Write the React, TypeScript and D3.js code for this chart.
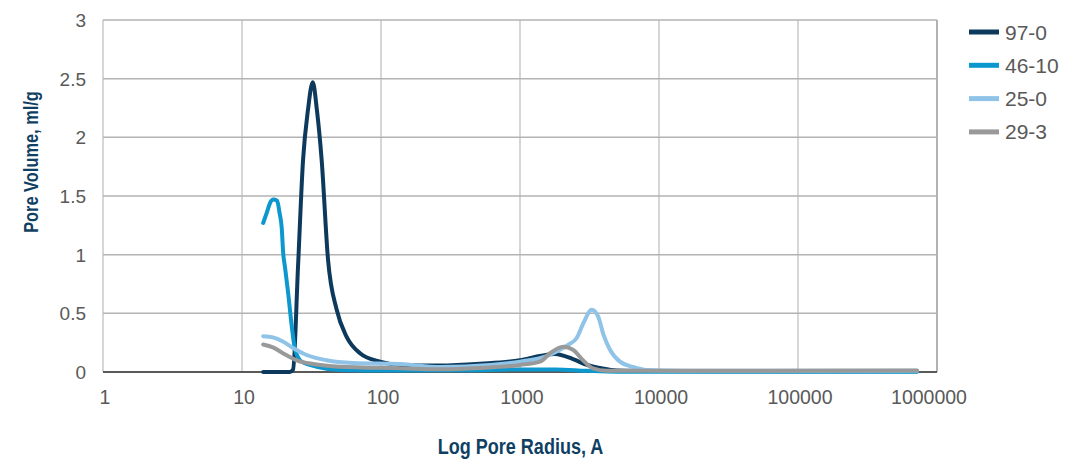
import React, { useEffect, useRef } from 'react'
import * as d3 from 'd3'

// pore radius (A) / pore volume (ml/g)
const radius97 = [14.2, 22.1, 23.3, 25.3, 27.5, 29.8, 32.3, 34.6, 37.4, 41.6, 48, 56.6, 70.6, 98.4, 137, 266, 516, 1000, 1393, 1786, 2406, 3033, 3765, 4985, 10000, 100000, 718000]
const volume97 = [0, 0, 0.02, 0.9, 1.81, 2.23, 2.47, 2.23, 1.81, 0.955, 0.53, 0.3, 0.16, 0.088, 0.06, 0.055, 0.07, 0.1, 0.136, 0.153, 0.11, 0.06, 0.034, 0.012, 0.008, 0.006, 0.006]

const radius46 = [14.2, 15.1, 15.9, 16.8, 17.9, 18.6, 19.3, 19.8, 20.4, 21.5, 22.8, 24.1, 26.9, 34.5, 50.7, 137, 500, 1000, 1800, 3000, 5000, 718000]
const volume46 = [1.27, 1.36, 1.44, 1.47, 1.46, 1.36, 1.23, 1.01, 0.89, 0.67, 0.39, 0.19, 0.088, 0.045, 0.017, 0.012, 0.015, 0.022, 0.022, 0.01, 0.002, 0.002]

const radius25 = [14.2, 16.7, 19.7, 23.3, 29.2, 40.6, 63, 137, 266, 608, 1000, 1556, 1941, 2215, 2557, 2853, 3280, 3659, 3956, 4440, 5240, 6500, 8150, 15000, 100000, 718000]
const volume25 = [0.305, 0.295, 0.26, 0.205, 0.145, 0.1, 0.077, 0.068, 0.043, 0.06, 0.088, 0.136, 0.19, 0.23, 0.29, 0.415, 0.53, 0.47, 0.33, 0.19, 0.088, 0.043, 0.017, 0.01, 0.01, 0.01]

const radius29 = [14.2, 16.7, 19.7, 24.8, 32.4, 50.7, 137, 266, 516, 1000, 1393, 1644, 2050, 2406, 2838, 3350, 4205, 718000]
const volume29 = [0.235, 0.21, 0.16, 0.1, 0.068, 0.045, 0.032, 0.023, 0.034, 0.06, 0.088, 0.16, 0.215, 0.19, 0.1, 0.03, 0.01, 0.012]

const seriesNames = ["97-0", "46-10", "25-0", "29-3"]
const seriesColors = ["#0d3a5c", "#0c98cf", "#8fc3e7", "#999999"]
const yTicks = [0, 0.5, 1, 1.5, 2, 2.5, 3]
const xTicks = [1, 10, 100, 1000, 10000, 100000, 1000000]

const width = 1065, height = 459
const margin = { top: 20, right: 128, bottom: 87, left: 103 }

const App = () => {
    const ref = useRef<SVGSVGElement>(null)

    useEffect(() => {
        document.body.style.margin = "0"
        const svg = d3.select(ref.current)
        svg.selectAll("*").remove()

        const x = d3.scaleLog()
            .domain([1, 1000000])
            .range([margin.left, width - margin.right])

        const y = d3.scaleLinear()
            .domain([0, 3])
            .range([height - margin.bottom, margin.top])

        const series = [
            { name: seriesNames[0], r: radius97, v: volume97 },
            { name: seriesNames[1], r: radius46, v: volume46 },
            { name: seriesNames[2], r: radius25, v: volume25 },
            { name: seriesNames[3], r: radius29, v: volume29 },
        ]

        const color = d3.scaleOrdinal<string>()
            .domain(seriesNames)
            .range(seriesColors)

        // grid
        svg.append("g")
            .selectAll("line")
            .data(xTicks)
            .join("line")
            .attr("x1", d => x(d))
            .attr("x2", d => x(d))
            .attr("y1", y(3))
            .attr("y2", y(0))
            .attr("stroke", (d, i) => i === xTicks.length - 1 ? "#999" : "#c9c9c9")
            .attr("stroke-width", 1.5)

        svg.append("g")
            .selectAll("line")
            .data(yTicks.filter(d => d > 0))
            .join("line")
            .attr("x1", x(1))
            .attr("x2", x(1000000))
            .attr("y1", d => y(d))
            .attr("y2", d => y(d))
            .attr("stroke", "#b3b3b3")
            .attr("stroke-width", 1.5)

        // zero line
        svg.append("line")
            .attr("x1", x(1))
            .attr("x2", x(1000000))
            .attr("y1", y(0))
            .attr("y2", y(0))
            .attr("stroke", "#595959")
            .attr("stroke-width", 2.2)

        // tick labels
        svg.append("g")
            .selectAll("text")
            .data(yTicks)
            .join("text")
            .attr("x", margin.left - 17)
            .attr("y", d => y(d))
            .attr("dy", "0.36em")
            .attr("text-anchor", "end")
            .attr("fill", "#595959")
            .style("font-family", "'Liberation Sans', Arial, sans-serif")
            .style("font-size", "19px")
            .text(d => d)

        svg.append("g")
            .selectAll("text")
            .data(xTicks)
            .join("text")
            .attr("x", d => x(d))
            .attr("dx", (d, i) => i === xTicks.length - 1 ? -8 : 2)
            .attr("y", y(0) + 32)
            .attr("text-anchor", "middle")
            .attr("fill", "#595959")
            .style("font-family", "'Liberation Sans', Arial, sans-serif")
            .style("font-size", "19.5px")
            .text(d => d)

        // series
        const line = d3.line<[number, number]>()
            .x(d => x(d[0]))
            .y(d => y(d[1]))
            .curve(d3.curveMonotoneX)

        svg.append("g")
            .selectAll("path")
            .data(series)
            .join("path")
            .attr("d", s => line(s.r.map((r, i) => [r, s.v[i]] as [number, number])))
            .attr("fill", "none")
            .attr("stroke", s => color(s.name))
            .attr("stroke-width", 4)
            .attr("stroke-linejoin", "round")
            .attr("stroke-linecap", "round")

        // axis titles (no narrow font installed, so squeeze a bold sans)
        const titleFont = "'Liberation Sans', Arial, sans-serif"
        svg.append("text")
            .attr("transform", `translate(37.5,162) rotate(-90) scale(0.82,1)`)
            .attr("text-anchor", "middle")
            .attr("fill", "#0f3f62")
            .style("font-family", titleFont)
            .style("font-weight", "bold")
            .style("font-size", "20px")
            .text("Pore Volume, ml/g")

        svg.append("text")
            .attr("transform", `translate(520.5,454) scale(0.82,1)`)
            .attr("text-anchor", "middle")
            .attr("fill", "#0f3f62")
            .style("font-family", titleFont)
            .style("font-weight", "bold")
            .style("font-size", "22px")
            .text("Log Pore Radius, A")

        // legend
        const legend = svg.append("g")
            .selectAll("g")
            .data(seriesNames)
            .join("g")
            .attr("transform", (d, i) => `translate(969,${32 + i * 33.3})`)

        legend.append("line")
            .attr("x1", 0)
            .attr("x2", 30)
            .attr("stroke", d => color(d))
            .attr("stroke-width", 5)

        legend.append("text")
            .attr("x", 36)
            .attr("dy", "0.36em")
            .attr("fill", "#595959")
            .style("font-family", "'Liberation Sans', Arial, sans-serif")
            .style("font-size", "21px")
            .text(d => d)
    }, [])

    return (
        <svg ref={ref} width={width} height={height} style={{ display: "block" }} />
    )
}

export default App
